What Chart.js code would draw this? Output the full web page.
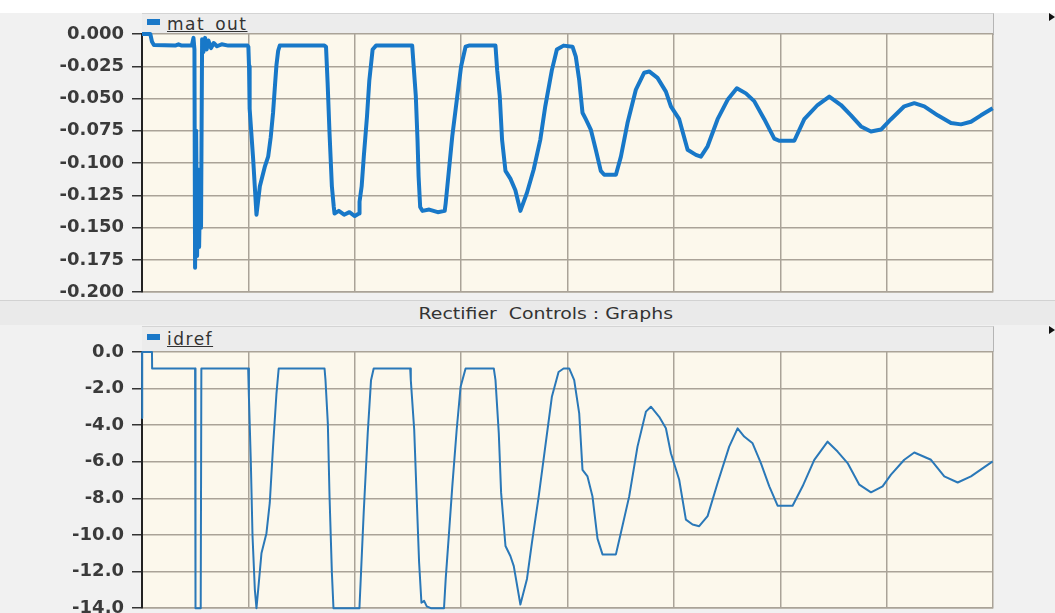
<!DOCTYPE html>
<html>
<head>
<meta charset="utf-8">
<title>Rectifier Controls : Graphs</title>
<script src="https://cdn.jsdelivr.net/npm/chart.js@4.4.1/dist/chart.umd.min.js"></script>
<style>
    html, body { margin: 0; padding: 0; }
    body { width: 1055px; height: 613px; overflow: hidden; background: #f1f1f1; position: relative; font-family: "DejaVu Sans", sans-serif; }
    #topStrip { position: absolute; left: 0; top: 0; width: 1055px; height: 13px; background: #fff; }
    .legendBar { position: absolute; left: 142px; width: 852px; background: #ececec; border-top: 1px solid #d4d4d4; border-right: 1px solid #b5b5b5; box-sizing: border-box; }
    #legTop { top: 13px; height: 22px; }
    #legBot { top: 326px; height: 26px; }
    .legMark { position: absolute; left: 5px; width: 13px; height: 6px; background: #1a78c8; }
    .legText { position: absolute; left: 25px; font-size: 17px; color: #333; text-decoration: underline; letter-spacing: 1.5px; }
    #legTop .legMark { top: 5px; }
    #legTop .legText { top: 0px; }
    #legBot .legMark { top: 7px; }
    #legBot .legText { top: 2px; }
    #midBand { position: absolute; left: 0; top: 300px; width: 1055px; height: 24px; background: #eaeaea; border-top: 1px solid #d2d2d2; }
    #title { position: absolute; top: 304px; left: 0; width: 1092px; text-align: center; font-size: 16px; color: #333; }
    #title span { display: inline-block; transform: scaleX(1.18); }
    .wrap { position: absolute; left: 0; width: 1000px; }
    #wrapTop { top: 0; height: 311px; }
    #wrapBot { top: 330px; height: 297px; }
    .tri { position: absolute; left: 1049px; width: 0; height: 0; border-top: 4px solid transparent; border-bottom: 4px solid transparent; border-left: 6px solid #111; }
</style>
</head>
<body>
<div id="topStrip"></div>
<div id="midBand"></div>
<div id="title"><span>Rectifier&nbsp; Controls : Graphs</span></div>
<div class="legendBar" id="legTop"><div class="legMark"></div><div class="legText">mat_out</div></div>
<div class="legendBar" id="legBot"><div class="legMark"></div><div class="legText">idref</div></div>
<div class="tri" style="top:13px"></div>
<div class="tri" style="top:326px"></div>
<div class="wrap" id="wrapTop"><canvas id="chartTop"></canvas></div>
<div class="wrap" id="wrapBot"><canvas id="chartBot"></canvas></div>

<script>
// tempo em divisoes da grade (0..8)
const topTime = [
    0, 0.078, 0.094, 0.112, 0.312, 0.343, 0.374, 0.468, 0.484, 0.493, 0.499, 0.509, 0.518, 0.527, 0.537, 0.546, 0.555, 0.565, 0.577, 0.593, 0.608, 0.624, 0.649, 0.674, 0.705, 0.749, 0.811, 0.992,
    1.000, 1.006, 1.012, 1.045, 1.076, 1.108, 1.154, 1.186, 1.210, 1.232, 1.250, 1.264, 1.280, 1.295, 1.715,
    1.730, 1.745, 1.763, 1.785, 1.803, 1.810, 1.850, 1.900, 1.950, 2.000, 2.040, 2.045, 2.065, 2.085, 2.115, 2.137, 2.168, 2.200, 2.540,
    2.552, 2.574, 2.590, 2.600, 2.615, 2.636, 2.700, 2.780, 2.846, 2.855, 2.886, 2.917, 2.964, 3.000, 3.042, 3.073, 3.323,
    3.339, 3.363, 3.385, 3.417, 3.463, 3.510, 3.557, 3.619, 3.682, 3.744, 3.791, 3.853, 3.900, 3.963,
    4.047, 4.078, 4.110, 4.141, 4.172, 4.219, 4.266, 4.313, 4.345, 4.455, 4.502, 4.564, 4.643, 4.721, 4.768, 4.846, 4.925, 4.972, 5.050, 5.129,
    5.207, 5.254, 5.317, 5.411, 5.505, 5.592, 5.677, 5.755, 5.850, 5.944, 5.990, 6.132, 6.226, 6.351, 6.461, 6.571, 6.665, 6.759, 6.853, 6.947,
    7.041, 7.166, 7.260, 7.354, 7.480, 7.605, 7.699, 7.793, 7.887, 7.997
];
const topValue = [
    0, 0, -0.006, -0.0085, -0.009, -0.008, -0.009, -0.009, -0.003, -0.012, -0.181, -0.075, -0.172, -0.105, -0.165, -0.120, -0.150, -0.004, -0.014, -0.003, -0.012, -0.005, -0.011, -0.007, -0.0095, -0.008, -0.009, -0.009,
    -0.010, -0.025, -0.058, -0.097, -0.140, -0.118, -0.103, -0.095, -0.080, -0.061, -0.040, -0.024, -0.013, -0.009, -0.009,
    -0.010, -0.038, -0.077, -0.118, -0.134, -0.139, -0.137, -0.140, -0.138, -0.141, -0.139, -0.130, -0.118, -0.095, -0.064, -0.036, -0.012, -0.009, -0.009,
    -0.023, -0.048, -0.082, -0.110, -0.134, -0.137, -0.136, -0.138, -0.137, -0.131, -0.105, -0.079, -0.048, -0.025, -0.0098, -0.009, -0.009,
    -0.028, -0.048, -0.082, -0.106, -0.112, -0.121, -0.137, -0.123, -0.105, -0.082, -0.056, -0.028, -0.012, -0.009,
    -0.0098, -0.0175, -0.0356, -0.061, -0.066, -0.074, -0.0897, -0.106, -0.109, -0.109, -0.095, -0.069, -0.043, -0.030, -0.029, -0.034, -0.0446, -0.056, -0.066, -0.0897,
    -0.0936, -0.095, -0.087, -0.066, -0.051, -0.042, -0.046, -0.052, -0.066, -0.081, -0.0827, -0.0827, -0.066, -0.055, -0.0485, -0.055, -0.063, -0.0716, -0.0755, -0.074,
    -0.066, -0.056, -0.0536, -0.056, -0.063, -0.069, -0.070, -0.068, -0.063, -0.0575
];

const bottomTime = [
    0, 0.001, 0.003, 0.094, 0.095, 0.499, 0.503, 0.552, 0.558, 0.998,
    1.005, 1.023, 1.039, 1.061, 1.076, 1.092, 1.123, 1.170, 1.201, 1.232, 1.264, 1.285, 1.716,
    1.725, 1.747, 1.763, 1.785, 1.800, 2.044, 2.059, 2.084, 2.122, 2.153, 2.178, 2.521,
    2.527, 2.559, 2.583, 2.605, 2.627, 2.652, 2.677, 2.715, 2.839, 2.855, 2.886, 2.917, 2.958, 2.995, 3.042, 3.307,
    3.323, 3.354, 3.376, 3.417, 3.463, 3.495, 3.557, 3.619, 3.666, 3.729, 3.791, 3.853, 3.916, 3.963,
    4.016, 4.063, 4.110, 4.141, 4.188, 4.235, 4.282, 4.329, 4.455, 4.502, 4.580, 4.658, 4.737, 4.784, 4.862, 4.925, 4.972, 5.050, 5.113, 5.176,
    5.238, 5.317, 5.411, 5.520, 5.599, 5.661, 5.740, 5.818, 5.897, 5.975, 6.116, 6.210, 6.320, 6.445, 6.539, 6.633, 6.743, 6.853, 6.962, 7.041,
    7.166, 7.260, 7.417, 7.542, 7.668, 7.793, 7.997
];
const bottomValue = [
    0, -3.6, 0, 0, -0.9, -0.9, -14, -14, -0.9, -0.9,
    -2.45, -6.0, -10.06, -13.0, -14, -13.0, -11.0, -9.9, -8.25, -5.17, -2.27, -0.9, -0.9,
    -1.54, -3.9, -7.9, -12.06, -14, -14, -12.06, -8.8, -4.44, -1.54, -0.9, -0.9,
    -1.54, -4.26, -8.07, -11.5, -13.7, -13.6, -13.9, -14, -14, -12.4, -9.9, -7.34, -4.26, -1.9, -0.9, -0.9,
    -1.54, -4.44, -7.7, -10.6, -11.15, -11.7, -13.8, -12.4, -10.4, -7.9, -5.17, -2.45, -1.09, -0.9,
    -0.9, -1.54, -3.35, -6.44, -6.8, -7.9, -10.2, -11.06, -11.06, -9.88, -7.89, -5.17, -3.26, -2.99, -3.54, -4.17, -5.53, -6.98, -9.16, -9.43,
    -9.52, -8.97, -7.16, -5.17, -4.17, -4.62, -4.99, -6.07, -7.34, -8.4, -8.4, -7.34, -5.89, -4.9, -5.44, -6.07, -7.25, -7.67, -7.34, -6.7,
    -5.89, -5.49, -5.89, -6.8, -7.13, -6.8, -5.98
];

const topTickLabels = ['0.000', '-0.025', '-0.050', '-0.075', '-0.100', '-0.125', '-0.150', '-0.175', '-0.200'];
const bottomTickLabels = ['0.0', '-2.0', '-4.0', '-6.0', '-8.0', '-10.0', '-12.0', '-14.0'];

const gridColor = '#aaa398';

// fundo creme da area do grafico
const plotBg = {
    id: 'plotBg',
    beforeDraw(chart) {
        const { ctx, chartArea: a } = chart;
        ctx.save();
        ctx.fillStyle = '#fcf8ec';
        ctx.fillRect(a.left, a.top, a.right - a.left, a.bottom - a.top);
        ctx.restore();
    }
};

function makeChart(canvasId, times, values, tickLabels, color, lineWidth, padding) {
    const ticks = tickLabels.map(l => parseFloat(l));
    const points = times.map((t, i) => ({ x: t, y: values[i] }));
    return new Chart(document.getElementById(canvasId), {
        type: 'line',
        data: {
            datasets: [{
                data: points,
                borderColor: color,
                borderWidth: lineWidth,
                pointRadius: 0,
                tension: 0,
                borderJoinStyle: 'round',
                clip: 3
            }]
        },
        options: {
            responsive: true,
            maintainAspectRatio: false,
            animation: false,
            events: [],
            layout: { autoPadding: false, padding: padding },
            plugins: { legend: { display: false }, tooltip: { enabled: false } },
            scales: {
                x: {
                    type: 'linear',
                    min: 0,
                    max: 8,
                    afterFit: s => { s.height = 0; },
                    ticks: { display: false, stepSize: 1 },
                    grid: { color: gridColor, lineWidth: 1.5, drawTicks: false },
                    border: { color: gridColor, width: 1.5 }
                },
                y: {
                    min: Math.min(...ticks),
                    max: Math.max(...ticks),
                    afterFit: s => { s.width = 142; },
                    afterBuildTicks: s => { s.ticks = ticks.slice().reverse().map(v => ({ value: v })); },
                    ticks: {
                        callback: v => tickLabels[ticks.indexOf(v)],
                        color: '#3a3a3a',
                        padding: 8,
                        font: { family: 'DejaVu Sans', size: 18, weight: 'bold' }
                    },
                    grid: { color: gridColor, lineWidth: 1.5, tickLength: 10, tickColor: '#333', tickWidth: 1.5 },
                    border: { color: '#222', width: 2 }
                }
            }
        },
        plugins: [plotBg]
    });
}

makeChart('chartTop', topTime, topValue, topTickLabels, '#1878c8', 4, { top: 34, right: 7, bottom: 4, left: 0 });
makeChart('chartBot', bottomTime, bottomValue, bottomTickLabels, '#2a78b8', 2, { top: 22, right: 7, bottom: 6, left: 0 });
</script>
</body>
</html>
